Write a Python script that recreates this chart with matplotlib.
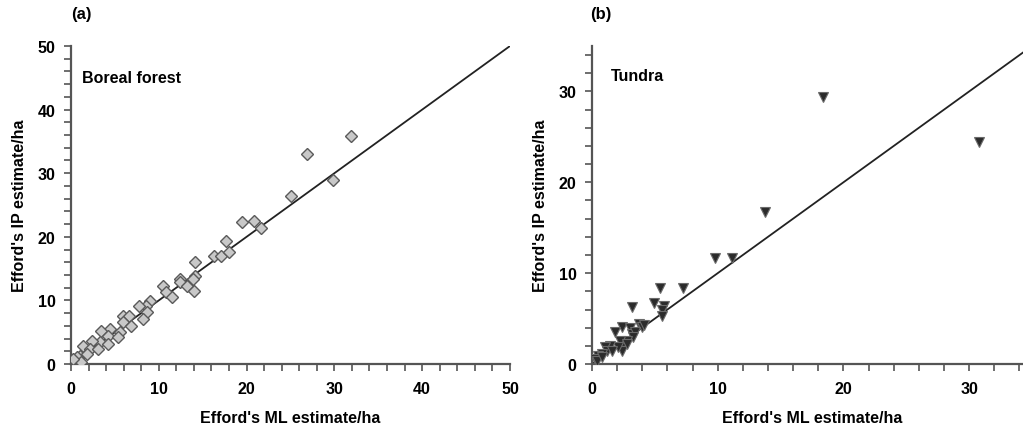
import numpy as np
import matplotlib
matplotlib.use("Agg")
import matplotlib.pyplot as plt
from matplotlib.ticker import MultipleLocator

plt.rcParams['font.family'] = ['Liberation Sans', 'DejaVu Sans']
plt.rcParams['font.weight'] = 'bold'

# ---- data ----
boreal_ml = [31.9, 26.9, 29.8, 25.1, 19.5, 20.9, 21.6, 17.65, 16.3, 17.1, 18.0, 14.1, 14.1, 12.4,
             10.5, 10.8, 11.5, 12.4, 13.2, 14.0, 13.9, 9.0, 8.5, 7.7, 8.7, 8.2, 5.9, 6.6, 5.9, 6.8,
             5.6, 4.4, 3.4, 4.2, 5.4, 3.3, 4.2, 2.4, 1.4, 2.2, 3.1, 1.0, 1.8, 0.7, 1.1, 0.2]
boreal_ip = [35.8, 33.0, 28.9, 26.4, 22.3, 22.5, 21.4, 19.3, 17.0, 17.0, 17.6, 16.0, 13.8, 13.4,
             12.3, 11.3, 10.5, 12.9, 12.3, 11.5, 13.4, 9.9, 9.1, 9.1, 8.2, 7.1, 7.5, 7.5, 6.6, 6.0,
             5.0, 5.5, 5.2, 4.4, 4.2, 3.5, 3.1, 3.6, 2.8, 2.4, 2.4, 1.3, 1.6, 1.1, 0.3, 0.8]

tundra_ml = [18.4, 30.8, 13.8, 9.8, 11.1, 5.4, 7.2, 3.2, 4.9, 5.7, 5.6, 5.6, 3.7, 4.0, 2.4, 1.8,
             3.0, 3.2, 3.4, 3.3, 2.8, 2.5, 2.2, 2.4, 2.1, 1.4, 1.0, 1.2, 0.8, 0.5, 0.2, 0.4, 0.8,
             1.6, 2.8, 4.1]
tundra_ip = [29.4, 24.4, 16.7, 11.7, 11.7, 8.4, 8.4, 6.3, 6.7, 6.4, 5.9, 5.3, 4.4, 4.1, 4.1, 3.5,
             4.0, 3.3, 3.5, 3.0, 2.5, 2.2, 2.5, 1.4, 1.9, 2.0, 1.9, 1.4, 1.1, 0.9, 0.6, 0.3, 0.8,
             1.4, 2.2, 4.3]

line_a = [0, 50]
line_b = [0, 36]

fig = plt.figure(figsize=(10.23, 4.31), dpi=100)
ax1 = fig.add_axes([0.0694, 0.1531, 0.4291, 0.7378])
ax2 = fig.add_axes([0.5787, 0.1531, 0.4301, 0.7378])


def style(ax, lim, major):
    ax.set_xlim(0, lim)
    ax.set_ylim(0, lim)
    for s in ['top', 'right']:
        ax.spines[s].set_visible(False)
    for s in ['left', 'bottom']:
        ax.spines[s].set_linewidth(1.6)
        ax.spines[s].set_color('#555555')
    ax.xaxis.set_major_locator(MultipleLocator(major))
    ax.yaxis.set_major_locator(MultipleLocator(major))
    ax.xaxis.set_minor_locator(MultipleLocator(2))
    ax.yaxis.set_minor_locator(MultipleLocator(2))
    ax.tick_params(which='both', direction='out', length=5, width=1.2, color='#555555')
    ax.tick_params(axis='x', pad=7, labelsize=11.5)
    ax.tick_params(axis='y', pad=6, labelsize=11.5)
    for lbl in ax.get_xticklabels() + ax.get_yticklabels():
        lbl.set_fontweight('bold')
    ax.set_xlabel("Efford's ML estimate/ha", fontsize=11.5, fontweight='bold', labelpad=10)
    ax.set_ylabel("Efford's IP estimate/ha", fontsize=11.5, fontweight='bold', labelpad=8)


style(ax1, 50, 10)
style(ax2, 35, 10)

ax1.plot(line_a, line_a, color='#222222', lw=1.3, zorder=2)
ax1.plot(boreal_ml, boreal_ip, linestyle='none', marker='D', markersize=6.6,
         markerfacecolor='#c8c8c8', markeredgecolor='#5a5a5a', markeredgewidth=1.0, zorder=3)
ax1.text(1.25, 45, 'Boreal forest', fontsize=11.5, fontweight='bold', va='center', ha='left')

ax2.plot(line_b, line_b, color='#222222', lw=1.3, zorder=2)
ax2.plot(tundra_ml, tundra_ip, linestyle='none', marker='v', markersize=7.5,
         markerfacecolor='#2b2b2b', markeredgecolor='#6a6a6a', markeredgewidth=0.8, zorder=3)
ax2.text(1.5, 31.8, 'Tundra', fontsize=11.5, fontweight='bold', va='center', ha='left')

fig.text(81 / 1023, 1 - 15 / 431, '(a)', fontsize=12, fontweight='bold', ha='center', va='center')
fig.text(601 / 1023, 1 - 15 / 431, '(b)', fontsize=12, fontweight='bold', ha='center', va='center')

fig.savefig('out.png', dpi=100)
